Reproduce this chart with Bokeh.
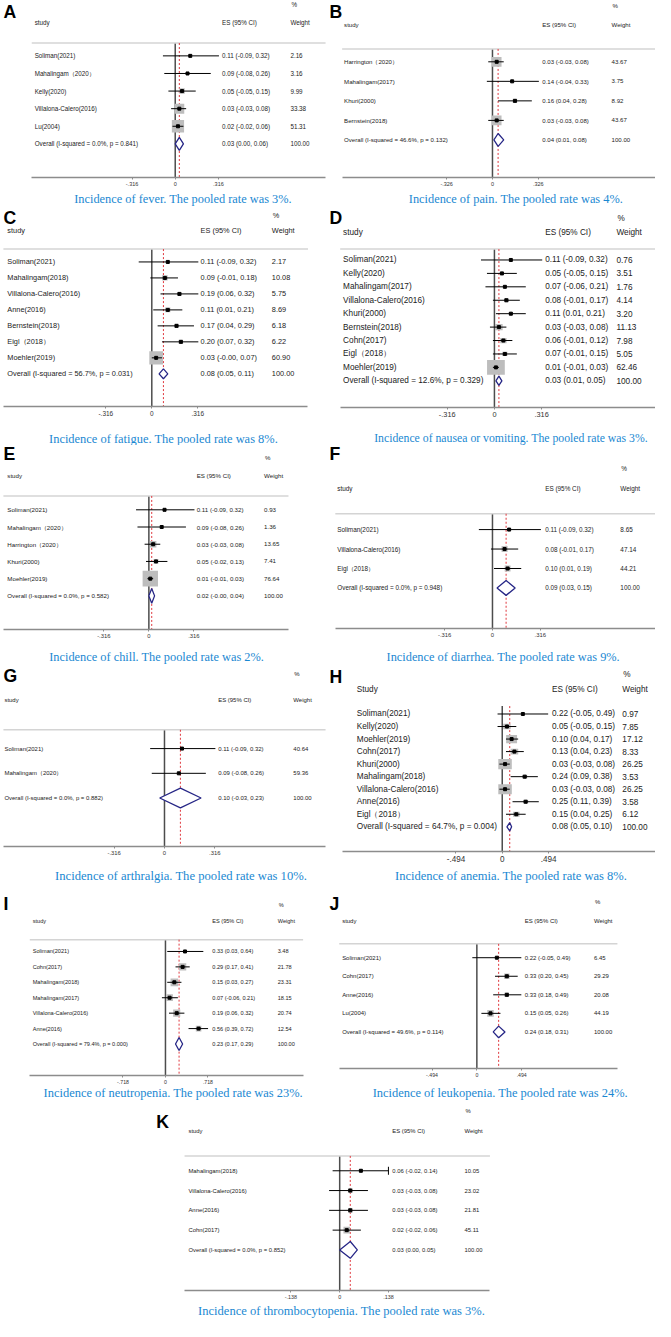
import math
from bokeh.plotting import figure
from bokeh.layouts import column, row
from bokeh.models import ColumnDataSource, Range1d, FixedTicker, Spacer, CustomJSTickFormatter
from bokeh.core.properties import value
from bokeh.embed import file_html
from bokeh.resources import INLINE

# ---------------- data ----------------
A_study = ["Soliman(2021)", "Mahalingam（2020）", "Kelly(2020)", "Villalona-Calero(2016)", "Lu(2004)"]
A_es = [0.11, 0.09, 0.05, 0.03, 0.02]
A_lo = [-0.09, -0.08, -0.05, -0.03, -0.02]
A_hi = [0.32, 0.26, 0.15, 0.08, 0.06]
A_w = [2.16, 3.16, 9.99, 33.38, 51.31]
A_overall = [0.03, 0.00, 0.06]
A_het = [0.0, 0.841]
A_ticks = [-0.316, 0, 0.316]
A_title = "Incidence of fever. The pooled rate was 3%."

B_study = ["Harrington（2020）", "Mahalingam(2017)", "Khuri(2000)", "Bernstein(2018)"]
B_es = [0.03, 0.14, 0.16, 0.03]
B_lo = [-0.03, -0.04, 0.04, -0.03]
B_hi = [0.08, 0.33, 0.28, 0.08]
B_w = [43.67, 3.75, 8.92, 43.67]
B_overall = [0.04, 0.01, 0.08]
B_het = [46.6, 0.132]
B_ticks = [-0.326, 0, 0.326]
B_title = "Incidence of pain. The pooled rate was 4%."

C_study = ["Soliman(2021)", "Mahalingam(2018)", "Villalona-Calero(2016)", "Anne(2016)",
           "Bernstein(2018)", "Eigl（2018）", "Moehler(2019)"]
C_es = [0.11, 0.09, 0.19, 0.11, 0.17, 0.20, 0.03]
C_lo = [-0.09, -0.01, 0.06, 0.01, 0.04, 0.07, -0.0]
C_hi = [0.32, 0.18, 0.32, 0.21, 0.29, 0.32, 0.07]
C_w = [2.17, 10.08, 5.75, 8.69, 6.18, 6.22, 60.90]
C_overall = [0.08, 0.05, 0.11]
C_het = [56.7, 0.031]
C_ticks = [-0.316, 0, 0.316]
C_title = "Incidence of fatigue. The pooled rate was 8%."

D_study = ["Soliman(2021)", "Kelly(2020)", "Mahalingam(2017)", "Villalona-Calero(2016)", "Khuri(2000)",
           "Bernstein(2018)", "Cohn(2017)", "Eigl（2018）", "Moehler(2019)"]
D_es = [0.11, 0.05, 0.07, 0.08, 0.11, 0.03, 0.06, 0.07, 0.01]
D_lo = [-0.09, -0.05, -0.06, -0.01, 0.01, -0.03, -0.01, -0.01, -0.01]
D_hi = [0.32, 0.15, 0.21, 0.17, 0.21, 0.08, 0.12, 0.15, 0.03]
D_w = [0.76, 3.51, 1.76, 4.14, 3.20, 11.13, 7.98, 5.05, 62.46]
D_overall = [0.03, 0.01, 0.05]
D_het = [12.6, 0.329]
D_ticks = [-0.316, 0, 0.316]
D_title = "Incidence of nausea or vomiting. The pooled rate was 3%."

E_study = ["Soliman(2021)", "Mahalingam（2020）", "Harrington（2020）", "Khuri(2000)", "Moehler(2019)"]
E_es = [0.11, 0.09, 0.03, 0.05, 0.01]
E_lo = [-0.09, -0.08, -0.03, -0.02, -0.01]
E_hi = [0.32, 0.26, 0.08, 0.13, 0.03]
E_w = [0.93, 1.36, 13.65, 7.41, 76.64]
E_overall = [0.02, -0.0, 0.04]
E_het = [0.0, 0.582]
E_ticks = [-0.316, 0, 0.316]
E_title = "Incidence of chill. The pooled rate was 2%."

F_study = ["Soliman(2021)", "Villalona-Calero(2016)", "Eigl（2018）"]
F_es = [0.11, 0.08, 0.10]
F_lo = [-0.09, -0.01, 0.01]
F_hi = [0.32, 0.17, 0.19]
F_w = [8.65, 47.14, 44.21]
F_overall = [0.09, 0.03, 0.15]
F_het = [0.0, 0.948]
F_ticks = [-0.316, 0, 0.316]
F_title = "Incidence of diarrhea. The pooled rate was 9%."

G_study = ["Soliman(2021)", "Mahalingam（2020）"]
G_es = [0.11, 0.09]
G_lo = [-0.09, -0.08]
G_hi = [0.32, 0.26]
G_w = [40.64, 59.36]
G_overall = [0.10, -0.03, 0.23]
G_het = [0.0, 0.882]
G_ticks = [-0.316, 0, 0.316]
G_title = "Incidence of arthralgia. The pooled rate was 10%."

H_study = ["Soliman(2021)", "Kelly(2020)", "Moehler(2019)", "Cohn(2017)", "Khuri(2000)",
           "Mahalingam(2018)", "Villalona-Calero(2016)", "Anne(2016)", "Eigl（2018）"]
H_es = [0.22, 0.05, 0.10, 0.13, 0.03, 0.24, 0.03, 0.25, 0.15]
H_lo = [-0.05, -0.05, 0.04, 0.04, -0.03, 0.09, -0.03, 0.11, 0.04]
H_hi = [0.49, 0.15, 0.17, 0.23, 0.08, 0.38, 0.08, 0.39, 0.25]
H_w = [0.97, 7.85, 17.12, 8.33, 26.25, 3.53, 26.25, 3.58, 6.12]
H_overall = [0.08, 0.05, 0.10]
H_het = [64.7, 0.004]
H_ticks = [-0.494, 0, 0.494]
H_title = "Incidence of anemia. The pooled rate was 8%."

I_study = ["Soliman(2021)", "Cohn(2017)", "Mahalingam(2018)", "Mahalingam(2017)",
           "Villalona-Calero(2016)", "Anne(2016)"]
I_es = [0.33, 0.29, 0.15, 0.07, 0.19, 0.56]
I_lo = [0.03, 0.17, 0.03, -0.06, 0.06, 0.39]
I_hi = [0.64, 0.41, 0.27, 0.21, 0.32, 0.72]
I_w = [3.48, 21.78, 23.31, 18.15, 20.74, 12.54]
I_overall = [0.23, 0.17, 0.29]
I_het = [79.4, 0.000]
I_ticks = [-0.718, 0, 0.718]
I_title = "Incidence of neutropenia. The pooled rate was 23%."

J_study = ["Soliman(2021)", "Cohn(2017)", "Anne(2016)", "Lu(2004)"]
J_es = [0.22, 0.33, 0.33, 0.15]
J_lo = [-0.05, 0.20, 0.18, 0.05]
J_hi = [0.49, 0.45, 0.49, 0.26]
J_w = [6.45, 29.29, 20.08, 44.19]
J_overall = [0.24, 0.18, 0.31]
J_het = [49.6, 0.114]
J_ticks = [-0.494, 0, 0.494]
J_title = "Incidence of leukopenia. The pooled rate was 24%."

K_study = ["Mahalingam(2018)", "Villalona-Calero(2016)", "Anne(2016)", "Cohn(2017)"]
K_es = [0.06, 0.03, 0.03, 0.02]
K_lo = [-0.02, -0.03, -0.03, -0.02]
K_hi = [0.14, 0.08, 0.08, 0.06]
K_w = [10.05, 23.02, 21.81, 45.11]
K_overall = [0.03, 0.00, 0.05]
K_het = [0.0, 0.852]
K_ticks = [-0.138, 0, 0.138]
K_title = "Incidence of thrombocytopenia. The pooled rate was 3%."

PANELS = {
    "A": (A_study, A_es, A_lo, A_hi, A_w, A_overall, A_het, A_ticks, A_title, "study"),
    "B": (B_study, B_es, B_lo, B_hi, B_w, B_overall, B_het, B_ticks, B_title, "study"),
    "C": (C_study, C_es, C_lo, C_hi, C_w, C_overall, C_het, C_ticks, C_title, "study"),
    "D": (D_study, D_es, D_lo, D_hi, D_w, D_overall, D_het, D_ticks, D_title, "study"),
    "E": (E_study, E_es, E_lo, E_hi, E_w, E_overall, E_het, E_ticks, E_title, "study"),
    "F": (F_study, F_es, F_lo, F_hi, F_w, F_overall, F_het, F_ticks, F_title, "study"),
    "G": (G_study, G_es, G_lo, G_hi, G_w, G_overall, G_het, G_ticks, G_title, "study"),
    "H": (H_study, H_es, H_lo, H_hi, H_w, H_overall, H_het, H_ticks, H_title, "Study"),
    "I": (I_study, I_es, I_lo, I_hi, I_w, I_overall, I_het, I_ticks, I_title, "study"),
    "J": (J_study, J_es, J_lo, J_hi, J_w, J_overall, J_het, J_ticks, J_title, "study"),
    "K": (K_study, K_es, K_lo, K_hi, K_w, K_overall, K_het, K_ticks, K_title, "study"),
}

# ---------------- layout (reference pixels) ----------------
LAY = {
    "A": dict(pl=0, pr=335, top=0, bot=210, x0=179, ppu=140, r0=56, sp=17.8, axis_y=179, ax_l=32, ax_r=333,
              hl_y=43, hl_l=32, hl_r=333, zt=43, cs=35, ce=227, cw=297, yp=4, yh=22, lx=3, ly=12,
              tx=187, ty=201, tsz=12.6, fs=6.4, tfs=5.6, kx=1.75, ky=1.75, dh=13),
    "B": dict(pl=335, pr=671, top=0, bot=210, x0=504, ppu=144, r0=62, sp=19.75, axis_y=179, ax_l=350, ax_r=671,
              hl_y=49, hl_l=350, hl_r=671, zt=49, cs=352, ce=555, cw=626, yp=5, yh=24, lx=337, ly=12,
              tx=528, ty=201, tsz=12.6, fs=6.2, tfs=5.6, kx=1.5, ky=1.5, dh=13),
    "C": dict(pl=0, pr=335, top=210, bot=451, x0=155, ppu=149, r0=265, sp=16.14, axis_y=411, ax_l=3, ax_r=315,
              hl_y=252, hl_l=3, hl_r=315, zt=252, cs=7, ce=205, cw=278, yp=218, yh=233, lx=3, ly=221,
              tx=167, ty=444, tsz=12.7, fs=7.5, tfs=6.6, kx=1.8, ky=1.7, dh=10),
    "D": dict(pl=335, pr=671, top=210, bot=451, x0=506, ppu=153, r0=263, sp=13.56, axis_y=412, ax_l=348, ax_r=671,
              hl_y=252, hl_l=348, hl_r=671, zt=252, cs=351, ce=558, cw=631, yp=221, yh=235, lx=337, ly=221,
              tx=523, ty=444, tsz=12.0, fs=8.4, tfs=7.5, kx=2.3, ky=1.9, dh=9.3),
    "E": dict(pl=0, pr=335, top=451, bot=675, x0=152, ppu=146, r0=516, sp=17.4, axis_y=637, ax_l=3, ax_r=295,
              hl_y=502, hl_l=3, hl_r=295, zt=502, cs=7, ce=201, cw=270, yp=463, yh=481, lx=3, ly=460,
              tx=160, ty=665, tsz=12.6, fs=6.3, tfs=6.0, kx=1.8, ky=1.8, dh=15),
    "F": dict(pl=335, pr=671, top=451, bot=675, x0=504, ppu=155, r0=536, sp=19.67, axis_y=636, ax_l=343, ax_r=671,
              hl_y=520, hl_l=343, hl_r=671, zt=520, cs=345, ce=558, cw=635, yp=474, yh=494, lx=337, ly=460,
              tx=515, ty=665, tsz=12.6, fs=6.5, tfs=6.0, kx=0.9, ky=0.9, dh=15),
    "G": dict(pl=0, pr=335, top=675, bot=897, x0=168, ppu=163, r0=758, sp=25, axis_y=857, ax_l=3, ax_r=333,
              hl_y=739, hl_l=3, hl_r=333, zt=739, cs=4, ce=223, cw=300, yp=683, yh=709, lx=3, ly=685,
              tx=185, ty=887, tsz=12.9, fs=6.1, tfs=6.0, kx=0.0, ky=0.0, dh=20),
    "H": dict(pl=335, pr=671, top=675, bot=897, x0=514, ppu=96, r0=723, sp=12.67, axis_y=862, ax_l=350, ax_r=671,
              hl_y=None, hl_l=350, hl_r=671, zt=715, cs=365, ce=565, cw=637, yp=683, yh=698, lx=337, ly=686,
              tx=523, ty=887, tsz=12.8, fs=8.4, tfs=8.3, kx=2.7, ky=2.0, dh=8.3),
    "I": dict(pl=0, pr=335, top=897, bot=1116, x0=169, ppu=60.6, r0=964, sp=15.67, axis_y=1090, ax_l=30, ax_r=310,
              hl_y=952, hl_l=30, hl_r=310, zt=952, cs=33, ce=217, cw=284, yp=917, yh=933, lx=3, ly=916,
              tx=177, ty=1107, tsz=12.7, fs=5.7, tfs=5.3, kx=1.6, ky=1.6, dh=13.3),
    "J": dict(pl=335, pr=671, top=897, bot=1116, x0=488, ppu=93, r0=970, sp=18.75, axis_y=1082, ax_l=347, ax_r=632,
              hl_y=956, hl_l=347, hl_r=632, zt=956, cs=350, ce=537, cw=608, yp=914, yh=933, lx=337, ly=916,
              tx=512, ty=1107, tsz=12.7, fs=6.1, tfs=5.3, kx=1.0, ky=1.0, dh=11.7),
    "K": dict(pl=150, pr=520, top=1116, bot=1337, x0=348, ppu=362, r0=1186, sp=20, axis_y=1307, ax_l=189, ax_r=502,
              hl_y=1171, hl_l=189, hl_r=502, zt=1171, cs=193, ce=402, cw=476, yp=1126, yh=1146, lx=160, ly=1137,
              tx=350, ty=1328, tsz=12.8, fs=6.0, tfs=5.5, kx=1.0, ky=1.0, dh=17, clip=0.138),
}

SX = 655 / 671
SY = 1321 / 1337
FSC = 0.98
BLUE = "#1a88d2"
TXT = "#222222"
SANS = "Liberation Sans"


def px(v):
    return f"{v * FSC:.2f}px"


def build(key):
    study, es, lo, hi, w, overall, het, ticks, title, head = PANELS[key]
    L = LAY[key]
    x0, ppu, r0, sp = L["x0"], L["ppu"], L["r0"], L["sp"]
    X = lambda v: (v - x0) / ppu
    Y = lambda v: (r0 - v) / sp
    c_top = max(L["ty"] - 6.5, L["axis_y"] + 10.5)
    W = round((L["pr"] - L["pl"]) * SX)
    Htot = round((L["bot"] - L["top"]) * SY)
    Hf = round((c_top - L["top"]) * SY)
    fh = round((L["axis_y"] - L["top"]) * SY)
    xr = Range1d(X(L["pl"]), X(L["pr"]))
    p = figure(width=W, height=Hf, x_range=xr,
               y_range=Range1d(Y(L["axis_y"]), Y(L["top"])),
               output_backend="svg", toolbar_location=None, tools="", y_axis_location=None,
               min_border_left=0, min_border_right=0, min_border_top=0, min_border_bottom=Hf - fh)
    p.outline_line_color = None
    p.xgrid.visible = False
    p.ygrid.visible = False

    ax = p.xaxis[0]
    ax.ticker = FixedTicker(ticks=ticks)
    ax.formatter = CustomJSTickFormatter(code="return tick == 0 ? '0' : tick.toFixed(3).replace('0.', '.');")
    ax.bounds = (X(L["ax_l"]), X(L["ax_r"]))
    ax.axis_line_color = "#8c8c8c"
    ax.axis_line_width = 1.5
    ax.major_tick_line_color = "#8c8c8c"
    ax.major_tick_out = 2
    ax.major_tick_in = 0
    ax.minor_tick_line_color = None
    ax.major_label_standoff = 2
    ax.major_label_text_font = SANS
    ax.major_label_text_font_size = px(L["tfs"])
    ax.major_label_text_color = "#333333"

    n = len(study)
    ys = [-i for i in range(n)]
    yo = -n
    clip = L.get("clip")
    hi_draw = [min(h, clip) if clip is not None else h for h in hi]

    src = ColumnDataSource(dict(
        y=ys, es=es, lo=lo, hi=hi_draw,
        bw=[L["kx"] * math.sqrt(v) * SX for v in w],
        bh=[L["ky"] * math.sqrt(v) * SY for v in w],
    ))

    ybot = Y(L["axis_y"]) - 1
    # null line, header rule, pooled-estimate line
    p.segment(x0=[0], x1=[0], y0=[Y(L["zt"])], y1=[ybot], line_color="#4d4d4d", line_width=1.5)
    if L["hl_y"] is not None:
        p.segment(x0=[X(L["hl_l"])], x1=[X(L["hl_r"])], y0=[Y(L["hl_y"])], y1=[Y(L["hl_y"])],
                  line_color="#d4d4d4", line_width=1.5)
    p.segment(x0=[overall[0]], x1=[overall[0]], y0=[Y(L["zt"])], y1=[ybot],
              line_color="#e0383e", line_width=1, line_dash="2 2")

    # study weight boxes, CI lines, point estimates
    if L["kx"] > 0:
        p.rect(x="es", y="y", width="bw", height="bh", width_units="screen", height_units="screen",
               source=src, fill_color="#bdbdbd", line_color=None)
    p.segment(x0="lo", x1="hi", y0="y", y1="y", source=src, line_color="black", line_width=1)
    p.scatter(x="es", y="y", source=src, marker="square", size=3, color="black")
    if clip is not None:
        cy = [y for y, h in zip(ys, hi) if h > clip]
        p.scatter(x=[clip] * len(cy), y=cy, marker="dash", angle=math.pi / 2, size=8,
                  line_color="black", line_width=1)

    # pooled diamond
    dh = L["dh"] / 2 / sp
    p.patch(x=[overall[1], overall[0], overall[2], overall[0]], y=[yo, yo + dh, yo, yo - dh],
            fill_color="white", line_color="#262686", line_width=1.3)

    # text columns
    fs = value(px(L["fs"]))
    font = value(SANS)
    labels = study + [f"Overall  (I-squared = {het[0]:.1f}%, p = {het[1]:.3f})"]
    estr = [f"{a:.2f} ({b:.2f}, {c:.2f})" for a, b, c in zip(es + [overall[0]], lo + [overall[1]], hi + [overall[2]])]
    wstr = [f"{v:.2f}" for v in w] + ["100.00"]
    yall = ys + [yo]
    for col, txts in ((L["cs"], labels), (L["ce"], estr), (L["cw"], wstr)):
        p.text(x=[X(col)] * len(txts), y=yall, text=txts, text_font=font, text_font_size=fs,
               text_baseline="middle", text_align="left", text_color=TXT)
    p.text(x=[X(L["cs"]), X(L["ce"]), X(L["cw"]), X(L["cw"]) + 1 / ppu],
           y=[Y(L["yh"]), Y(L["yh"]), Y(L["yh"]), Y(L["yp"])],
           text=[head, "ES (95% CI)", "Weight", "%"], text_font=font, text_font_size=fs,
           text_baseline="middle", text_align="left", text_color=TXT)

    # panel letter
    p.text(x=[X(L["lx"])], y=[Y(L["ly"])], text=[key], text_font=font, text_font_style="bold",
           text_font_size=value(px(18)), text_baseline="middle", text_align="left", text_color="black")

    # caption strip below the axis
    Hc = Htot - Hf
    cap = figure(width=W, height=Hc, x_range=Range1d(X(L["pl"]), X(L["pr"])),
                 y_range=Range1d(-(L["bot"] - c_top), 0),
                 output_backend="svg", toolbar_location=None, tools="",
                 x_axis_location=None, y_axis_location=None,
                 min_border_left=0, min_border_right=0, min_border_top=0, min_border_bottom=0)
    cap.outline_line_color = None
    cap.xgrid.visible = False
    cap.ygrid.visible = False
    cap.text(x=[X(L["tx"])], y=[-(L["ty"] - c_top)], text=[title], text_align="center",
             text_baseline="middle", text_font=value("Liberation Serif"),
             text_font_size=value(px(L["tsz"])), text_color=BLUE)
    return column(p, cap, spacing=0)


cells = {k: build(k) for k in PANELS}
kspace = Spacer(width=round(150 * SX), height=round((LAY["K"]["bot"] - LAY["K"]["top"]) * SY))
layout = column(
    row(cells["A"], cells["B"]),
    row(cells["C"], cells["D"]),
    row(cells["E"], cells["F"]),
    row(cells["G"], cells["H"]),
    row(cells["I"], cells["J"]),
    row(kspace, cells["K"]),
)

open("out.html", "w").write(file_html(layout, INLINE))
